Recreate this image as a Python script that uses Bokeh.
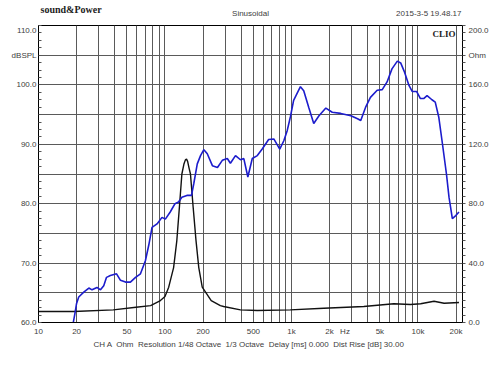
from bokeh.plotting import figure
from bokeh.models import (LinearAxis, Range1d, FixedTicker, Label, Title)
from bokeh.layouts import column
from bokeh.embed import file_html
from bokeh.resources import INLINE

# ---- data ----
spl_freq = [18.8, 19.4, 20, 20.8, 22.8, 25, 26.5, 29, 30.9, 32.8, 34.5, 37, 41.4, 44.5, 48.7,
            53.3, 58.5, 64, 70, 74.4, 79, 86.5, 94.7, 100.7, 110, 120, 128, 136, 149, 162, 169,
            180, 191, 203, 216, 237, 260, 284, 311, 329, 361, 395, 420, 452, 490, 537, 587, 660,
            725, 808, 870, 925, 980, 1040, 1177, 1250, 1370, 1500, 1650, 1870, 2100, 2450, 2950,
            3330, 3530, 3850, 4210, 4760, 5220, 5700, 6230, 6870, 7300, 7850, 8490, 9000, 9750,
            10460, 11100, 11800, 12900, 13700, 14600, 15500, 16800, 17600, 18700, 19900, 21100]
spl_db = [59.9, 61.5, 63.2, 64.3, 65.1, 65.8, 65.5, 65.9, 65.5, 66.2, 67.6, 67.9, 68.2, 67.1, 66.8,
          66.8, 67.6, 68.2, 70.4, 73.0, 76.0, 76.6, 77.7, 77.4, 78.6, 80.0, 80.3, 81.1, 81.4, 81.4, 83.4,
          86.7, 88.1, 89.1, 88.4, 86.4, 86.1, 87.3, 87.6, 86.8, 88.1, 87.4, 87.6, 84.5, 87.6, 88.1, 89.2, 90.8,
          90.9, 89.2, 90.6, 92.3, 94.6, 97.4, 99.7, 99.0, 96.2, 93.5, 94.8, 96.1, 95.4, 95.2, 94.8,
          94.3, 94.0, 96.2, 97.9, 99.1, 99.2, 100.5, 102.7, 104.0, 103.7, 102.1, 99.9, 98.9, 98.9,
          97.7, 97.7, 98.2, 97.5, 97.1, 94.6, 90.6, 85.0, 81.1, 77.5, 78.0, 78.6]

imp_freq = [10, 19, 39, 59, 77, 92, 100, 107, 117, 124, 130, 136, 141, 145, 148, 151, 155, 159,
            167, 176, 185, 197, 232, 274, 291, 395, 537, 980, 1800, 3730, 6440, 8730, 10500,
            13400, 16100, 21100]
imp_ohm = [7.4, 7.4, 8.5, 10.3, 11.4, 14.8, 17.5, 23.8, 37, 55, 77.6, 100, 106.5, 109.5, 110, 108.5,
           104, 100, 77.6, 55, 37, 23.8, 14.8, 11.4, 10.8, 8.5, 8.1, 8.5, 9.6, 10.8, 12.6, 12.1, 12.6,
           14.3, 13.0, 13.5]

x_ticks = [10, 20, 50, 100, 200, 500, 1000, 2000, 2650, 5000, 10000, 20000]
x_tick_labels = ["10", "20", "50", "100", "200", "500", "1k", "2k", "Hz", "5k", "10k", "20k"]
x_grid = [20, 30, 40, 50, 60, 70, 80, 90, 100, 200, 300, 400, 500, 600, 700, 800, 900,
          1000, 2000, 3000, 4000, 5000, 6000, 7000, 8000, 9000, 10000, 20000]
left_ticks = [60, 70, 80, 90, 100, 105, 110]
left_labels = ["60.0", "70.0", "80.0", "90.0", "100.0", "dBSPL", "110.0"]
right_ticks = [0, 40, 80, 120, 160, 180, 200]
right_labels = ["0.0", "40.0", "80.0", "120.0", "160.0", "Ohm", "200.0"]

brand = "sound&Power"
mode = "Sinusoidal"
stamp = "2015-3-5 19.48.17"
caption = "CH A \u00a0Ohm \u00a0Resolution 1/48 Octave \u00a01/3 Octave \u00a0Delay [ms] 0.000 \u00a0Dist Rise [dB] 30.00"

FONT = "Liberation Sans"
TXT = "#404040"
FS = "8px"

# ---- header strip (its frame is aligned with the main frame: x 38..462) ----
hdr = figure(width=498, height=25, x_range=(0, 498), y_range=(0, 25),
             output_backend="svg", toolbar_location=None,
             x_axis_location=None, y_axis_location=None,
             min_border=0, min_border_left=0, min_border_right=0,
             min_border_top=0, min_border_bottom=0)
hdr.outline_line_color = None
hdr.grid.visible = False
hdr.add_layout(Label(x=2, y=16, x_units="screen", y_units="screen", text=brand,
                     text_font="Liberation Serif", text_font_style="bold", text_font_size="10px",
                     text_color="#222222", text_baseline="middle"))
hdr.add_layout(Label(x=212, y=12, x_units="screen", y_units="screen", text=mode,
                     text_font=FONT, text_font_size=FS, text_color=TXT,
                     text_baseline="middle", text_align="center"))
hdr.add_layout(Label(x=423, y=12, x_units="screen", y_units="screen", text=stamp,
                     text_font=FONT, text_font_size=FS, text_color=TXT,
                     text_baseline="middle", text_align="right"))

# ---- main plot ----
p = figure(frame_width=424, frame_height=297, x_axis_type="log",
           x_range=(10, 22500), y_range=(60, 110),
           output_backend="svg", toolbar_location=None,
           min_border_left=38, min_border_right=36, min_border_top=0, min_border_bottom=40,
           background_fill_color="white", border_fill_color="white")
p.extra_y_ranges = {"ohm": Range1d(0, 200)}
p.outline_line_color = "black"
p.outline_line_width = 1

p.xgrid.ticker = FixedTicker(ticks=x_grid)
p.ygrid.ticker = FixedTicker(ticks=[60 + 5 * i for i in range(11)])
for g in (p.xgrid, p.ygrid):
    g.grid_line_color = "#5a5a5a"
    g.grid_line_width = 1

xa = p.xaxis[0]
xa.ticker = FixedTicker(ticks=x_ticks)
xa.major_label_overrides = {t: l for t, l in zip(x_ticks, x_tick_labels)}
xa.major_tick_in = 0
xa.major_tick_out = 0
xa.minor_tick_in = 0
xa.minor_tick_out = 0
xa.major_label_standoff = 4

ya = p.yaxis[0]
ya.ticker = FixedTicker(ticks=left_ticks, minor_ticks=[60 + 1.25 * i for i in range(41)])
ya.major_label_overrides = {t: l for t, l in zip(left_ticks, left_labels)}
ya.major_tick_in = 0
ya.major_tick_out = 0
ya.minor_tick_in = 3
ya.minor_tick_out = 0
ya.major_label_standoff = 2

ra = LinearAxis(y_range_name="ohm",
                ticker=FixedTicker(ticks=right_ticks, minor_ticks=[5 * i for i in range(41)]))
ra.major_label_overrides = {t: l for t, l in zip(right_ticks, right_labels)}
ra.major_tick_in = 0
ra.major_tick_out = 0
ra.minor_tick_in = 0
ra.minor_tick_out = 3
ra.major_label_standoff = 3
p.add_layout(ra, "right")

for ax in (xa, ya, ra):
    ax.axis_line_color = "black"
    ax.minor_tick_line_color = "#555555"
    ax.major_label_text_font = FONT
    ax.major_label_text_font_size = FS
    ax.major_label_text_color = TXT

p.line(imp_freq, imp_ohm, y_range_name="ohm", line_color="#111111", line_width=1.4)
p.line(spl_freq, spl_db, line_color="#1c1ccc", line_width=1.6)

p.add_layout(Label(x=417, y=289, x_units="screen", y_units="screen", text="CLIO",
                   text_font="Liberation Serif", text_font_style="bold", text_font_size="9px",
                   text_color="#222222", text_baseline="middle", text_align="right"))
p.add_layout(Title(text=caption, align="left", offset=55, standoff=-2,
                   text_font=FONT, text_font_size=FS, text_color=TXT,
                   text_font_style="normal"), "below")

layout = column(hdr, p, spacing=0)
open("out.html", "w").write(file_html(layout, INLINE))
